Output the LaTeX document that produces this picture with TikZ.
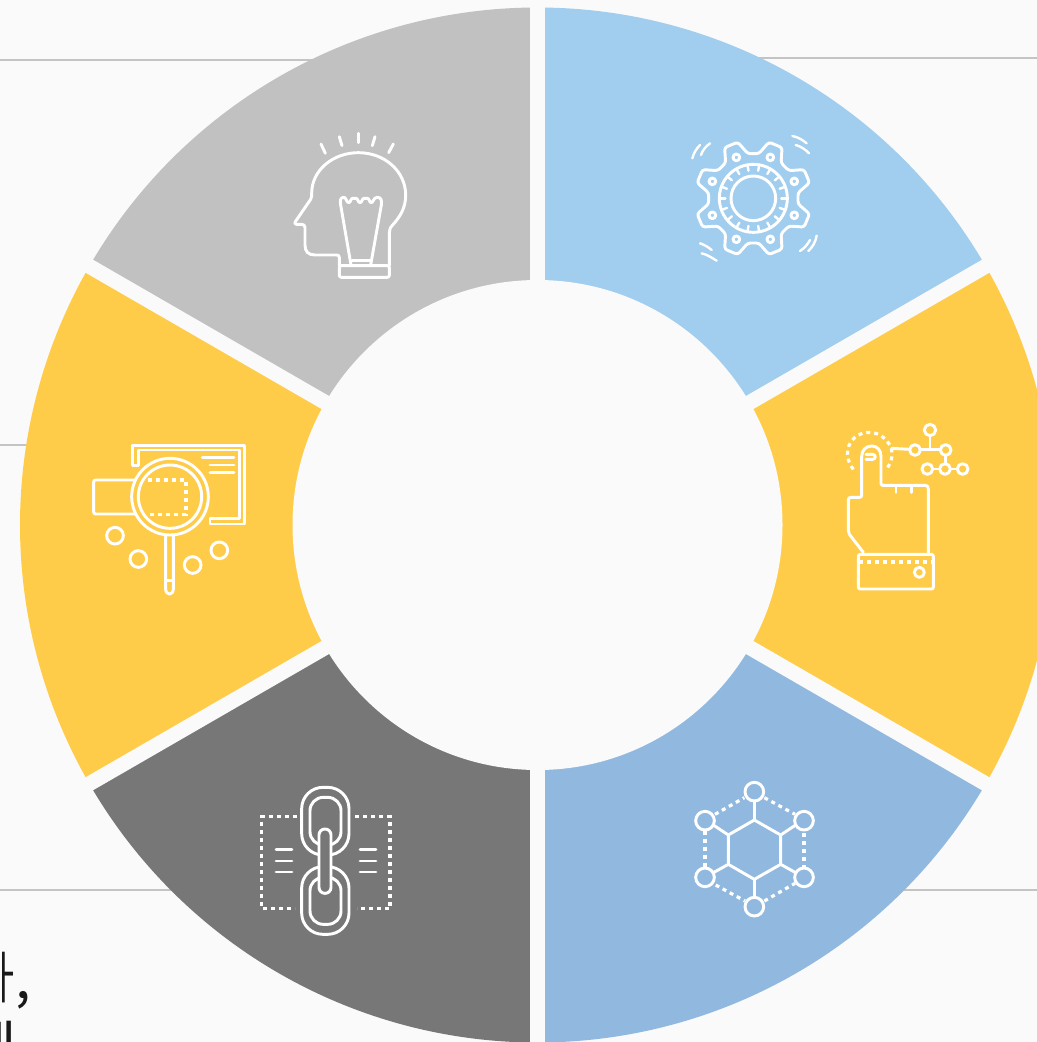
\documentclass[tikz,border=0pt]{standalone}
\usepackage{fontspec}
\newfontfamily\krfont{Noto Sans CJK KR}
\definecolor{bgc}{HTML}{FAFAFA}
\definecolor{rulec}{HTML}{C4C4C4}
\definecolor{graya}{HTML}{C1C1C1}
\definecolor{grayb}{HTML}{777777}
\definecolor{bluea}{HTML}{A1CDEE}
\definecolor{blueb}{HTML}{91B9DF}
\definecolor{yel}{HTML}{FFCC4A}
\tikzset{
  px/.style={x=0.75pt,y=-0.75pt},
  zoomed/.style={x=0.25pt,y=-0.25pt},
  ic/.style={draw=white,line width=2.2pt,line join=round,line cap=round},
  thinic/.style={draw=white,line width=1.8pt,line join=round,line cap=round},
  dotic/.style={draw=white,line width=2.4pt,dash pattern=on 3pt off 3pt},
  rulel/.style={draw=rulec,line width=1.2pt},
  gapl/.style={draw=bgc,line width=11.25pt},
}
\begin{document}
\begin{tikzpicture}[px]
\useasboundingbox (0,0) rectangle (1037,1042);
\clip (0,0) rectangle (1037,1042);
\fill[bgc] (0,0) rectangle (1037,1042);
% rules behind the wheel
\draw[rulel] (0,60) -- (330,60);
\draw[rulel] (700,58) -- (1037,58);
\draw[rulel] (0,445) -- (100,445);
\draw[rulel] (0,890) -- (300,890);
\draw[rulel] (800,890) -- (1037,890);
% cut-off text
\begin{scope}
  \clip (2.5,920) rectangle (60,1010);
  \node[font=\krfont\fontsize{42}{50}\selectfont,text=black!90,anchor=base east,inner sep=0pt] (t1) at (31,998) {다,};
\end{scope}
\node[font=\krfont\fontsize{42}{50}\selectfont,text=black!90,anchor=base west,inner sep=0pt] (t2) at (-35,1067) {에};
% wheel
\begin{scope}[shift={(537.5,525)},x=0.75pt,y=0.75pt]
  \foreach \s/\e/\c in {90/30/bluea,30/-30/yel,-30/-90/blueb,-90/-150/grayb,-150/-210/yel,-210/-270/graya}{
    \fill[\c] (0,0) -- (\s:517.5) arc[start angle=\s,end angle=\e,radius=517.5] -- cycle;
  }
  \foreach \a in {90,30,-30}{
    \draw[gapl] (\a:530) -- (\a+180:530);
  }
  \fill[bgc] (0,0) circle[radius=245];
\end{scope}
% head with bulb
\begin{scope}[shift={(270,120)},zoomed]
  \draw[ic,rounded corners=1.5pt] (208,437) rectangle (358,472);
  \draw[ic] (208,437) -- (208,412) .. controls (208,407) and (205,405) .. (200,405) -- (135,405)
    .. controls (115,405) and (105,395) .. (105,375) -- (105,322) .. controls (105,316) and (100,313) .. (95,313) -- (80,313)
    .. controls (74,313) and (73,309) .. (76,305) -- (122,238) .. controls (125,233) and (125,228) .. (125,220)
    .. controls (125,150) and (190,98) .. (265,98) .. controls (345,98) and (407,155) .. (407,225)
    .. controls (407,265) and (390,290) .. (368,315) .. controls (360,323) and (358,330) .. (358,340) -- (358,437);
  \draw[ic] (243,435) -- (212,255) .. controls (209,240) and (212,232) .. (222,232)
    .. controls (228,232) and (230,248) .. (236,248) .. controls (242,248) and (242,235) .. (248,235)
    -- (258,235) .. controls (264,235) and (264,248) .. (270,248) .. controls (276,248) and (276,235) .. (282,235)
    -- (292,235) .. controls (298,235) and (298,248) .. (304,248) .. controls (310,248) and (310,232) .. (322,232)
    .. controls (333,232) and (336,240) .. (334,255) -- (302,435);
  \draw[ic] (247,422) -- (300,422);
  \foreach \p/\q in {{(153,72)}/{(166,100)},{(208,50)}/{(216,77)},{(265,40)}/{(265,68)},{(315,50)}/{(307,77)},{(370,72)}/{(356,98)}}{
    \draw[ic] \p -- \q;
  }
\end{scope}
% gear
\begin{scope}[shift={(675,125)},zoomed]
  \begin{scope}[shift={(235,220)}]
    \draw[ic,rounded corners=2pt] (7:135)
      \foreach \a in {22.5,67.5,112.5,157.5,202.5,247.5,292.5,337.5}{
        -- (\a-15.5:135) -- (\a-7:175) -- (\a+7:175) -- (\a+15.5:135)
      } -- cycle;
    \foreach \a in {22.5,67.5,112.5,157.5,202.5,247.5,292.5,337.5}{
      \draw[ic] (\a:133) circle[radius=10];
    }
    \draw[ic] (0,0) circle[radius=102];
    \draw[ic] (0,0) circle[radius=67];
    \foreach \a in {0,20,...,340}{
      \draw[thinic] (\a:102) -- (\a:84);
    }
  \end{scope}
  \draw[thinic] (52,100) .. controls (56,85) and (63,72) .. (75,60);
  \draw[thinic] (78,90) .. controls (82,77) and (92,64) .. (105,55);
  \draw[thinic] (352,33) .. controls (368,36) and (382,44) .. (395,55);
  \draw[thinic] (362,60) .. controls (377,64) and (391,73) .. (402,85);
  \draw[thinic] (375,378) .. controls (388,370) and (398,358) .. (405,345);
  \draw[thinic] (400,378) .. controls (413,366) and (422,350) .. (425,332);
  \draw[thinic] (75,355) .. controls (85,358) and (100,366) .. (110,375);
  \draw[thinic] (80,385) .. controls (95,388) and (110,398) .. (125,407);
\end{scope}
% pointing hand
\begin{scope}[shift={(830,415)},zoomed]
  \draw[ic] (100,412) -- (58,358) .. controls (55,354) and (55,350) .. (55,345) -- (55,255)
    .. controls (55,249) and (58,247) .. (63,247) -- (88,247) .. controls (93,247) and (95,245) .. (95,240)
    -- (95,125) .. controls (95,105) and (108,93) .. (125,93) .. controls (142,93) and (153,105) .. (153,125)
    -- (153,205) .. controls (153,209) and (155,211) .. (158,211) -- (285,211)
    .. controls (292,211) and (295,214) .. (295,222) -- (295,415);
  \draw[ic,rounded corners=1.5pt] (85,418) rectangle (310,522);
  \draw[dotic] (88,441) -- (308,441);
  \draw[ic] (268,472) circle[radius=15];
  \draw[ic] (198,212) -- (198,232);
  \draw[ic] (245,212) -- (245,232);
  \draw[ic] (108,118) -- (128,118) .. controls (138,118) and (138,133) .. (128,133) -- (108,133);
  \draw[dotic] (70,163) .. controls (40,125) and (50,80) .. (85,60) .. controls (120,42) and (165,55) .. (183,98) .. controls (190,120) and (185,140) .. (170,162);
  \draw[ic] (185,100) -- (239,103);
  \draw[ic] (271,103) -- (331,103);
  \draw[ic] (300,62) -- (300,103);
  \draw[ic] (347,121) -- (347,146);
  \draw[ic] (308,162) -- (329,162);
  \draw[ic] (361,162) -- (382,162);
  \foreach \x/\y/\r in {300/45/17,255/105/16,347/105/16,292/162/16,345/162/16,398/162/16}{
    \draw[ic] (\x,\y) circle[radius=\r];
  }
\end{scope}
% magnifier
\begin{scope}[shift={(80,435)},zoomed]
  \draw[ic] (158,92) -- (158,32) -- (494,32) -- (494,267) -- (390,267) -- (390,250) -- (478,250) -- (478,45) -- (175,45) -- (175,92) -- cycle;
  \draw[ic,fill=yel] (270,185) circle[radius=115];
  \draw[ic] (270,185) circle[radius=95];
  \draw[ic,rounded corners=1.5pt] (165,135) -- (41,135) -- (41,237) -- (165,237);
  \draw[ic] (257,303) -- (257,462) .. controls (257,482) and (280,482) .. (280,462) -- (280,303);
  \draw[ic] (257,437) -- (280,437);
  \draw[ic] (367,67) -- (462,67);
  \draw[ic] (390,90) -- (462,90);
  \draw[ic] (390,112) -- (462,112);
  \draw[dotic] (205,135) -- (318,135) -- (318,238) -- (205,238);
  \foreach \x/\y in {105/302,175/372,338/390,418/346}{
    \draw[ic] (\x,\y) circle[radius=25];
  }
\end{scope}
% chain
\begin{scope}[shift={(250,780)},zoomed]
  \draw[dotic] (140,110) -- (35,110) -- (35,385) -- (135,385);
  \draw[dotic] (315,110) -- (420,110) -- (420,385) -- (320,385);
  \foreach \y in {208,243,276}{
    \draw[ic] (78,\y) -- (126,\y);
    \draw[ic] (330,\y) -- (378,\y);
  }
  \draw[ic,rounded corners=16pt] (155,22) rectangle (297,225);
  \draw[ic,rounded corners=10pt] (180,52) rectangle (273,195);
  \draw[ic,rounded corners=16pt] (155,260) rectangle (297,463);
  \draw[ic,rounded corners=10pt] (180,292) rectangle (273,433);
  \draw[ic,fill=grayb,rounded corners=4.4pt] (207,147) rectangle (243,340);
\end{scope}
% molecule
\begin{scope}[shift={(685,775)},zoomed]
  \draw[ic] (208,135) -- (287,180) -- (287,268) -- (208,313) -- (130,268) -- (130,180) -- cycle;
  \draw[ic] (208,78) -- (208,135);
  \draw[ic] (85,150) -- (130,180);
  \draw[ic] (332,150) -- (287,180);
  \draw[ic] (85,293) -- (130,268);
  \draw[ic] (332,293) -- (287,268);
  \draw[ic] (208,313) -- (208,367);
  \draw[dotic] (90,118) -- (178,68);
  \draw[dotic] (238,68) -- (330,118);
  \draw[dotic] (60,167) -- (60,280);
  \draw[dotic] (357,175) -- (357,275);
  \draw[dotic] (92,330) -- (180,378);
  \draw[dotic] (238,378) -- (330,325);
  \foreach \x/\y in {208/50,60/137,357/137,60/307,357/307,208/395}{
    \draw[ic] (\x,\y) circle[radius=28];
  }
\end{scope}
\end{tikzpicture}
\end{document}
